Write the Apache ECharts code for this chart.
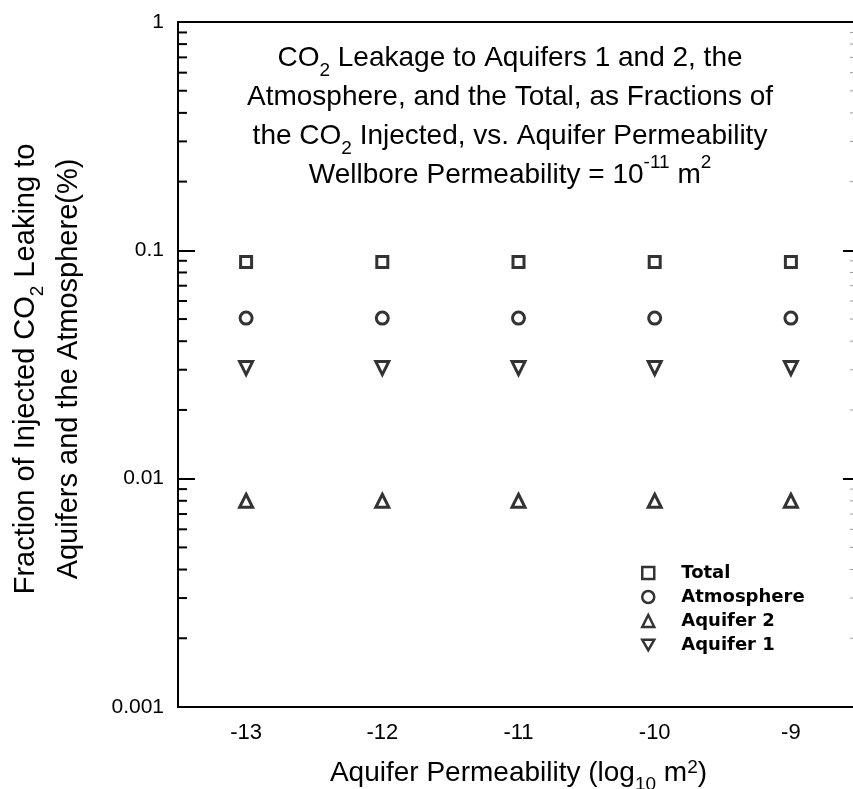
<!DOCTYPE html>
<html><head><meta charset="utf-8">
<script src="https://cdn.jsdelivr.net/npm/echarts@6/dist/echarts.min.js"></script>
<style>html,body{margin:0;padding:0;background:#fff}#c{width:853px;height:789px}</style>
</head><body><div id="c"></div>
<script>
const categories = ['-13', '-12', '-11', '-10', '-9'];
const total = [0.089, 0.089, 0.089, 0.089, 0.089];
const atmosphere = [0.0505, 0.0505, 0.0505, 0.0505, 0.0505];
const aquifer2 = [0.008, 0.008, 0.008, 0.008, 0.008];
const aquifer1 = [0.0305, 0.0305, 0.0305, 0.0305, 0.0305];
const yTickLabels = {'1': '1', '0.1': '0.1', '0.01': '0.01', '0.001': '0.001'};

const minorVals = [];
for (let k = -3; k <= -1; k++) for (let m = 2; m <= 9; m++) minorVals.push(+(m * Math.pow(10, k)).toPrecision(3));

const F = 'Liberation Sans, Arial, sans-serif';
const LF = 'DejaVu Sans, sans-serif';
const chart = echarts.init(document.getElementById('c'), null, {renderer: 'canvas'});
const mk = (name, data, symbol, size, rot) => ({
  name, type: 'scatter', data, symbol, symbolSize: size, symbolRotate: rot || 0,
  itemStyle: {color: '#fff', borderColor: '#000', borderWidth: 3},
  emphasis: {disabled: true}, z: 5
});
chart.setOption({
  animation: false,
  grid: {left: 178, top: 22, width: 681, height: 685, show: false, containLabel: false, outerBoundsMode: 'none'},
  title: {
    text: 'CO{sub|2} Leakage to Aquifers 1 and 2, the\nAtmosphere, and the Total, as Fractions of\nthe CO{sub|2} Injected, vs. Aquifer Permeability\nWellbore Permeability = 10{sup|-11} m{sup|2}',
    left: 505, top: 34, textAlign: 'center',
    textStyle: {fontFamily: F, fontSize: 28, fontWeight: 'normal', color: '#000', lineHeight: 39,
      rich: {sub: {fontFamily: F, fontSize: 19, verticalAlign: 'bottom', padding: [0,0,-2,0]},
             sup: {fontFamily: F, fontSize: 19, verticalAlign: 'top', padding: [-3,0,0,0]}}}
  },
  legend: {
    data: [
      {name: 'Total'}, {name: 'Atmosphere'}, {name: 'Aquifer 2'},
      {name: 'Aquifer 1', icon: 'path://M0,0 L10,0 L5,8.66 Z'}
    ],
    orient: 'vertical', left: 636, top: 559, itemGap: 6, itemWidth: 12, itemHeight: 12,
    itemStyle: {color: '#fff', borderColor: '#000', borderWidth: 2.5},
    textStyle: {fontFamily: LF, fontSize: 18, fontWeight: 'bold', color: '#000', padding: [0,0,0,22]},
    selectedMode: false
  },
  xAxis: [{
    type: 'category', data: categories, boundaryGap: true, position: 'bottom',
    axisLine: {lineStyle: {color: '#000', width: 2}},
    axisTick: {alignWithLabel: true, inside: true, length: 10, lineStyle: {color: '#000', width: 2}},
    axisLabel: {fontFamily: F, fontSize: 22, color: '#000', margin: 15},
    splitLine: {show: false},
    name: 'Aquifer Permeability (log{sub|10} m{sup|2})', nameLocation: 'middle', nameGap: 49,
    nameTextStyle: {fontFamily: F, fontSize: 28, color: '#000', lineHeight: 34,
      rich: {sub: {fontFamily: F, fontSize: 19, verticalAlign: 'bottom', padding: [0,0,-4,0]},
             sup: {fontFamily: F, fontSize: 19, verticalAlign: 'top', padding: [2,0,0,0]}}}
  }, {
    type: 'category', data: categories, boundaryGap: true, position: 'top',
    axisLine: {lineStyle: {color: '#000', width: 2}},
    axisTick: {alignWithLabel: true, inside: true, length: 10, lineStyle: {color: '#000', width: 2}},
    axisLabel: {show: false}, splitLine: {show: false}
  }],
  yAxis: [{
    type: 'log', logBase: 10, min: 0.001, max: 1, position: 'left',
    axisLine: {show: true, lineStyle: {color: '#000', width: 2}},
    axisTick: {show: true, inside: true, length: 17, lineStyle: {color: '#000', width: 2}},
    minorTick: {show: false},
    axisLabel: {fontFamily: F, fontSize: 21, color: '#000', margin: 14,
      formatter: v => yTickLabels[String(+v.toPrecision(3))] || ''},
    splitLine: {show: false},
    name: 'Fraction of Injected CO{sub|2} Leaking to\nAquifers and the Atmosphere(%)',
    nameLocation: 'middle', nameRotate: 90, nameGap: 88,
    nameTextStyle: {fontFamily: F, fontSize: 29, color: '#000', lineHeight: 43, padding: [0, 9, 0, 0],
      rich: {sub: {fontFamily: F, fontSize: 19, verticalAlign: 'bottom', padding: [0,0,0,0]}}}
  }, {
    type: 'log', logBase: 10, min: 0.001, max: 1, position: 'right',
    axisLine: {show: true, lineStyle: {color: '#000', width: 2}},
    axisTick: {show: true, inside: true, length: 16, lineStyle: {color: '#000', width: 2}},
    axisLabel: {show: false}, splitLine: {show: false}
  }],
  series: [
    mk('Total', total, 'rect', 11),
    mk('Atmosphere', atmosphere, 'circle', 12),
    mk('Aquifer 2', aquifer2, 'triangle', 13),
    mk('Aquifer 1', aquifer1, 'triangle', 13, 180),
    {
      type: 'custom', name: 'minor', silent: true, clip: false, z: 3,
      data: minorVals.map(v => [0, v]),
      encode: {x: 0, y: 1},
      renderItem: (params, api) => {
        const p = api.coord([0, api.value(1)]);
        const cs = params.coordSys;
        return {type: 'group', children: [
          {type: 'line', shape: {x1: cs.x, y1: p[1], x2: cs.x + 9, y2: p[1]}, style: {stroke: '#000', lineWidth: 2}},
          {type: 'line', shape: {x1: cs.x + cs.width, y1: p[1], x2: cs.x + cs.width - 9, y2: p[1]}, style: {stroke: '#999', lineWidth: 1}}
        ]};
      }
    }
  ]
});
</script></body></html>
